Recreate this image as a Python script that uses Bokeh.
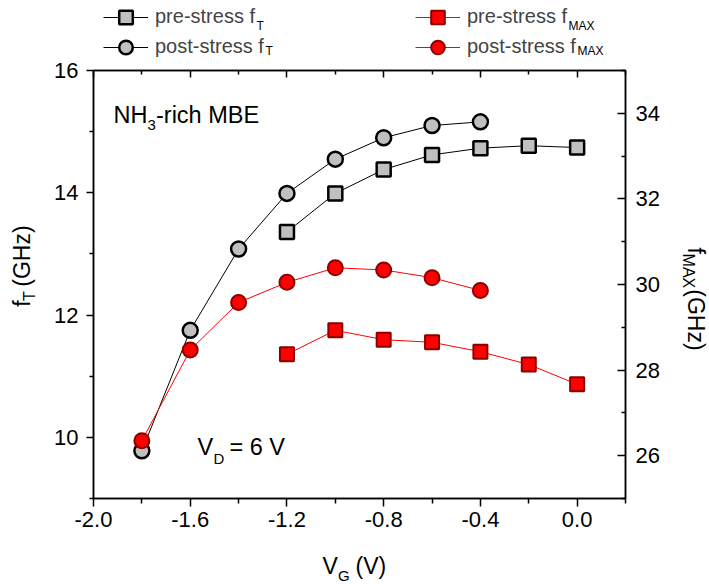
import math
from bokeh.plotting import figure
from bokeh.layouts import column, row
from bokeh.models import (Range1d, LinearAxis, FixedTicker, Legend, LegendItem, Label,
                          NumeralTickFormatter, CustomJSTickFormatter)
from bokeh.embed import file_html
from bokeh.resources import INLINE

# ---------------- data ----------------
vg_pre = [-1.2, -1.0, -0.8, -0.6, -0.4, -0.2, 0.0]
ft_pre = [13.36, 13.99, 14.38, 14.62, 14.73, 14.77, 14.74]
fmax_pre = [28.37, 28.93, 28.71, 28.65, 28.43, 28.13, 27.67]

vg_post = [-1.8, -1.6, -1.4, -1.2, -1.0, -0.8, -0.6, -0.4]
ft_post = [9.78, 11.75, 13.08, 13.99, 14.55, 14.90, 15.10, 15.16]
fmax_post = [26.35, 28.47, 29.58, 30.05, 30.39, 30.34, 30.16, 29.86]

x_major = [-2.0, -1.6, -1.2, -0.8, -0.4, 0.0]
x_minor = [-1.8, -1.4, -1.0, -0.6, -0.2, 0.2]
yl_major = [10, 12, 14, 16]
yl_minor = [9, 11, 13, 15]
yr_major = [26, 28, 30, 32, 34]
yr_minor = [25, 27, 29, 31, 33, 35]

X_MIN, X_MAX = -2.0, 0.2
YL_MIN, YL_MAX = 9, 16
YR_MIN, YR_MAX = 25, 35

FONT = "Liberation Sans"
GRAY = "#C0C0C0"
RED = "#FF0000"
DARKRED = "#8B0000"

# ---------------- page geometry (pixels) ----------------
W, H = 709, 584
TOP_H = 57          # legend strip
BOT_H = 36          # x-title strip
LEFT_W = 50         # left title strip
RIGHT_W = 33        # right title strip
MAIN_W = W - LEFT_W - RIGHT_W
MAIN_H = H - TOP_H - BOT_H
FL, FR, FT, FB = 93, 625, 70, 498   # plot frame

main = figure(width=MAIN_W, height=MAIN_H, output_backend="svg", toolbar_location=None,
              x_range=Range1d(X_MIN, X_MAX), y_range=Range1d(YL_MIN, YL_MAX),
              min_border_left=FL - LEFT_W, min_border_right=LEFT_W + MAIN_W - FR,
              min_border_top=FT - TOP_H, min_border_bottom=TOP_H + MAIN_H - FB)
main.extra_y_ranges = {"fmax": Range1d(YR_MIN, YR_MAX)}
main.grid.visible = False
main.outline_line_color = "black"
main.outline_line_width = 1.5


def style_axis(ax, tin, tout, mtin, mtout, standoff, size="22px"):
    ax.axis_line_width = 1.5
    ax.axis_line_color = "black"
    ax.major_tick_line_width = 1.5
    ax.minor_tick_line_width = 1.5
    ax.major_tick_line_color = "black"
    ax.minor_tick_line_color = "black"
    ax.major_tick_in = tin
    ax.major_tick_out = tout
    ax.minor_tick_in = mtin
    ax.minor_tick_out = mtout
    ax.major_label_standoff = standoff
    ax.major_label_text_font = FONT
    ax.major_label_text_font_size = size
    ax.major_label_text_color = "black"


xb = main.xaxis[0]
xb.ticker = FixedTicker(ticks=x_major, minor_ticks=x_minor)
xb.formatter = NumeralTickFormatter(format="0.0")
style_axis(xb, 0, 8, 0, 5, 5)

yl = main.yaxis[0]
yl.ticker = FixedTicker(ticks=yl_major, minor_ticks=yl_minor)
yl.formatter = NumeralTickFormatter(format="0")
style_axis(yl, 0, 7, 0, 4, 8)

yr = LinearAxis(y_range_name="fmax",
                ticker=FixedTicker(ticks=yr_major, minor_ticks=yr_minor),
                formatter=NumeralTickFormatter(format="0"))
style_axis(yr, 8, 0, 4, 0, 10)
main.add_layout(yr, "right")

xt = LinearAxis(ticker=FixedTicker(ticks=x_major, minor_ticks=x_minor),
                formatter=CustomJSTickFormatter(code="return ''"))
style_axis(xt, 7, 0, 4, 0, 0, size="0px")
main.add_layout(xt, "above")

# ---------------- series ----------------
PRE_FT = dict(marker="square", size=14, fill_color=GRAY, line_color="black", line_width=2.5)
POST_FT = dict(marker="circle", size=15, fill_color=GRAY, line_color="black", line_width=2.5)
PRE_FM = dict(marker="square", size=14, fill_color=RED, line_color=DARKRED, line_width=2)
POST_FM = dict(marker="circle", size=15, fill_color=RED, line_color=DARKRED, line_width=2)
LINE_FT = dict(line_color="black", line_width=1)
LINE_FM = dict(line_color=RED, line_width=1)

main.line(vg_pre, ft_pre, **LINE_FT)
main.scatter(vg_pre, ft_pre, **PRE_FT)
main.line(vg_post, ft_post, **LINE_FT)
main.scatter(vg_post, ft_post, **POST_FT)
main.line(vg_pre, fmax_pre, y_range_name="fmax", **LINE_FM)
main.scatter(vg_pre, fmax_pre, y_range_name="fmax", **PRE_FM)
main.line(vg_post, fmax_post, y_range_name="fmax", **LINE_FM)
main.scatter(vg_post, fmax_post, y_range_name="fmax", **POST_FM)


def mdx(px):
    return X_MIN + (px - FL) * (X_MAX - X_MIN) / (FR - FL)


def mdy(py):
    return YL_MAX - (py - FT) * (YL_MAX - YL_MIN) / (FB - FT)


MID = 0.35   # distance from alphabetic baseline to the "middle" anchor, in em


def text_on(fig, conv_x, conv_y, text, px, base, size, angle=0.0):
    """px: start of the text along its direction, base: its baseline position."""
    if angle == 0.0:
        ax, ay = px, base - MID * size
    elif angle > 0:          # reads bottom -> top, glyph tops point left
        ax, ay = base - MID * size, px
    else:                    # reads top -> bottom, glyph tops point right
        ax, ay = base + MID * size, px
    fig.add_layout(Label(x=conv_x(ax), y=conv_y(ay), text=text, text_font=FONT,
                         text_font_size=f"{size}px", angle=angle, text_align="left",
                         text_baseline="middle", text_color="black"))


ident = lambda v: v

# annotations inside the frame
text_on(main, mdx, mdy, "NH", 113, 123, 23.5)
text_on(main, mdx, mdy, "3", 147, 130, 15)
text_on(main, mdx, mdy, "-rich MBE", 155.5, 123, 23.5)
text_on(main, mdx, mdy, "V", 197, 455, 23.5)
text_on(main, mdx, mdy, "D", 213, 463, 15)
text_on(main, mdx, mdy, "= 6 V", 229, 455, 23.5)


def strip(w, h, x0, y0, off=0):
    f = figure(width=w, height=h, output_backend="svg", toolbar_location=None,
               x_range=Range1d(x0 + off, x0 + w + off), y_range=Range1d(y0 + h, y0),
               x_axis_type=None, y_axis_type=None,
               min_border=0, min_border_left=0, min_border_right=0,
               min_border_top=0, min_border_bottom=0)
    f.outline_line_color = None
    f.grid.visible = False
    return f


# ---------------- legend strip ----------------
# The strip's x coordinates are shifted far away from the data, so the sample
# renderers used by the legend are not drawn inside the strip itself.
OFF = 1000
top = strip(W, TOP_H, 0, 0, OFF)
shift = lambda v: v + OFF
GH = 34


def add_legend(label, xs, ys, line_kw, mark_kw, left_px, center_py):
    lr = top.line(xs, ys, **line_kw)
    mr = top.scatter(xs, ys, **mark_kw)
    lg = Legend(items=[LegendItem(label=label, renderers=[lr, mr])],
                location=(left_px, TOP_H - (center_py + GH / 2)),
                glyph_width=45, glyph_height=GH, label_standoff=7,
                label_text_font=FONT, label_text_font_size="20px",
                padding=0, margin=0, spacing=0, label_height=20,
                border_line_color=None, background_fill_alpha=0)
    top.add_layout(lg)


add_legend("pre-stress f", vg_pre, ft_pre, LINE_FT, PRE_FT, 103, 16.5)
add_legend("post-stress f", vg_post, ft_post, LINE_FT, POST_FT, 103, 46.5)
add_legend("pre-stress f", vg_pre, fmax_pre, LINE_FM, PRE_FM, 415, 16.5)
add_legend("post-stress f", vg_post, fmax_post, LINE_FM, POST_FM, 415, 46.5)
text_on(top, shift, ident, "T", 256, 29.5, 12)
text_on(top, shift, ident, "T", 265, 54.5, 12)
text_on(top, shift, ident, "MAX", 568, 29.5, 12)
text_on(top, shift, ident, "MAX", 577, 54.5, 12)

# ---------------- left title strip ----------------
left = strip(LEFT_W, MAIN_H, 0, TOP_H)
text_on(left, ident, ident, "f", 328, 30, 23, math.pi / 2)
text_on(left, ident, ident, "T", 321.5, 35, 16, math.pi / 2)
text_on(left, ident, ident, "(GHz)", 305, 30, 23, math.pi / 2)

# ---------------- right title strip ----------------
right = strip(RIGHT_W, MAIN_H, LEFT_W + MAIN_W, TOP_H)
text_on(right, ident, ident, "f", 260, 687, 23, -math.pi / 2)
text_on(right, ident, ident, "MAX", 267, 682, 16, -math.pi / 2)
text_on(right, ident, ident, "(GHz)", 308, 687, 23, -math.pi / 2)

# ---------------- bottom title strip ----------------
bottom = strip(W, BOT_H, 0, TOP_H + MAIN_H)
text_on(bottom, ident, ident, "V", 322, 574, 23)
text_on(bottom, ident, ident, "G", 337.5, 580, 15)
text_on(bottom, ident, ident, "(V)", 355, 574, 23)

page = column(top, row(left, main, right), bottom)

open("out.html", "w").write(file_html(page, INLINE))
